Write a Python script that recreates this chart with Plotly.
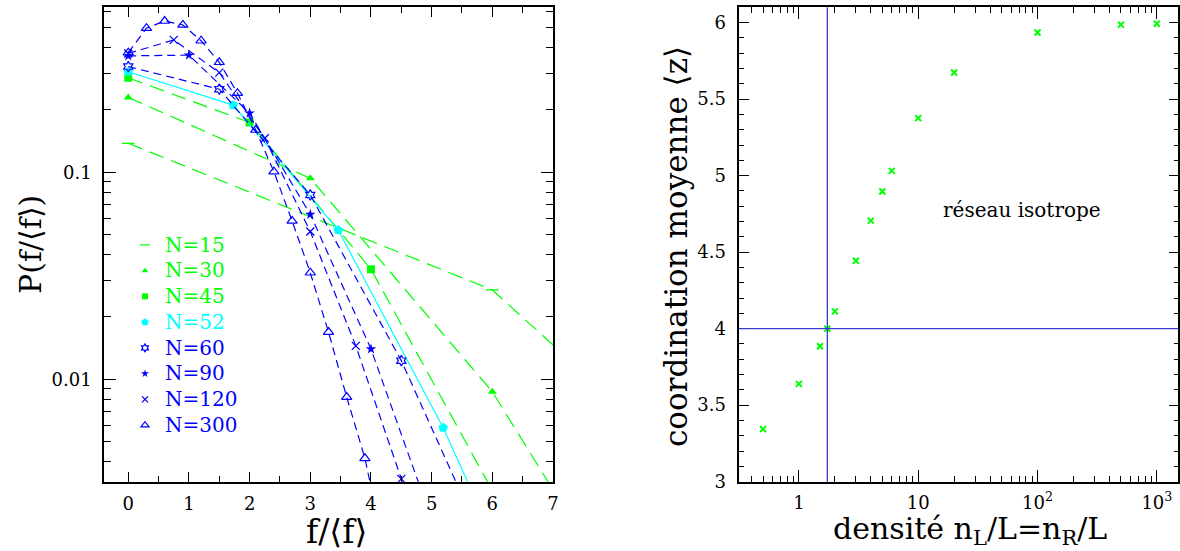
import plotly.graph_objects as go

# ---------------- data: left panel  P(f/<f>) ----------------
x_n15 = [0, 6, 12]
y_n15 = [0.138, 0.027, 0.00069]
x_n30 = [0, 3, 6, 9]
y_n30 = [0.230, 0.0935, 0.0087, 0.00033]
x_n45 = [0, 2, 4, 6]
y_n45 = [0.286, 0.174, 0.034, 0.0029]
x_n52 = [0, 1.73, 3.46, 5.19, 6.92]
y_n52 = [0.306, 0.211, 0.0526, 0.00583, 0.00044]
x_n60 = [0, 1.5, 3, 4.5, 6]
y_n60 = [0.324, 0.252, 0.0777, 0.0123, 0.0013]
x_n90 = [0, 1, 2, 3, 4, 5]
y_n90 = [0.365, 0.368, 0.193, 0.0626, 0.014, 0.0021]
x_n120 = [0, 0.75, 1.5, 2.25, 3, 3.75, 4.5, 5.25]
y_n120 = [0.375, 0.436, 0.303, 0.146, 0.0517, 0.0145, 0.0033, 0.0006]
x_n300 = [0, 0.3, 0.6, 0.9, 1.2, 1.5, 1.8, 2.1, 2.4, 2.7, 3.0, 3.3, 3.6, 3.9, 4.2]
y_n300 = [0.378, 0.497, 0.538, 0.515, 0.432, 0.340, 0.241, 0.160, 0.1007,
          0.0582, 0.0327, 0.0169, 0.0082, 0.00415, 0.0016]

series_names = ["N=15", "N=30", "N=45", "N=52", "N=60", "N=90", "N=120", "N=300"]

# ---------------- data: right panel  <z> vs density ----------------
density = [0.5, 1, 1.5, 1.73, 2, 3, 4, 5, 6, 10, 20, 100, 500, 1000]
z_mean = [3.344, 3.639, 3.885, 4.0, 4.113, 4.444, 4.706, 4.896, 5.031,
          5.376, 5.674, 5.935, 5.987, 5.993]
density_c = 1.73
z_c = 4.0

left_yticks = [0.01, 0.1]
left_yticktext = ["0.01", "0.1"]
right_xticks = [1, 10, 100, 1000]
right_xticktext = ["1", "10", "10<sup>2</sup>", "10<sup>3</sup>"]

# ---------------- styles ----------------
GREEN = "#00ff00"
CYAN = "#00ffff"
BLUE = "#0000ff"
FONT = "DejaVu Serif"

styles = [
    dict(color=GREEN, dash="15px,8px", symbol="line-ew-open", size=9, mlw=1.2),
    dict(color=GREEN, dash="15px,8px", symbol="triangle-up", size=8, mlw=0),
    dict(color=GREEN, dash="15px,8px", symbol="square", size=8, mlw=0),
    dict(color=CYAN, dash="solid", symbol="pentagon", size=10, mlw=0),
    dict(color=BLUE, dash="8px,5px", symbol="hexagram-open", size=8, mlw=1.2),
    dict(color=BLUE, dash="8px,5px", symbol="star", size=8, mlw=0),
    dict(color=BLUE, dash="8px,5px", symbol="x-thin-open", size=8, mlw=1.3),
    dict(color=BLUE, dash="8px,5px", symbol="triangle-up-open", size=9, mlw=1.2),
]

data_x = [x_n15, x_n30, x_n45, x_n52, x_n60, x_n90, x_n120, x_n300]
data_y = [y_n15, y_n30, y_n45, y_n52, y_n60, y_n90, y_n120, y_n300]

fig = go.Figure()

for name, xs, ys, st in zip(series_names, data_x, data_y, styles):
    marker = dict(symbol=st["symbol"], size=st["size"], color=st["color"],
                  line=dict(color=st["color"], width=st["mlw"]))
    fig.add_trace(go.Scatter(
        x=xs, y=ys, mode="lines+markers", xaxis="x", yaxis="y",
        line=dict(color=st["color"], width=1.2, dash=st["dash"]),
        marker=marker, showlegend=False, cliponaxis=True))
    # legend-only entry (marker only)
    fig.add_trace(go.Scatter(
        x=[None], y=[None], mode="markers", xaxis="x", yaxis="y",
        marker=dict(symbol=st["symbol"], size=st["size"] - 2, color=st["color"],
                    line=dict(color=st["color"], width=st["mlw"])),
        name=f"<span style='color:{st['color']};font-size:20px'>{name}</span>",
        showlegend=True))

# right panel points
fig.add_trace(go.Scatter(
    x=density, y=z_mean, mode="markers", xaxis="x2", yaxis="y2",
    marker=dict(symbol="x-thin-open", size=6, color=GREEN,
                line=dict(color=GREEN, width=2)),
    showlegend=False))

# threshold lines in right panel (data coords)
fig.add_shape(type="line", xref="x2", yref="y2 domain",
              x0=density_c, x1=density_c, y0=0, y1=1,
              line=dict(color="#3a3ad0", width=1.3))
fig.add_shape(type="line", xref="x2 domain", yref="y2",
              x0=0, x1=1, y0=z_c, y1=z_c,
              line=dict(color="#3a3ad0", width=1.3))

W, H = 1180, 551
def px(x):
    return x / W
def py(y):
    return 1 - y / H

axis_common = dict(showline=True, linecolor="black", linewidth=1.5, mirror="allticks",
                   ticks="inside", tickcolor="black", showgrid=False, zeroline=False,
                   automargin=False,
                   tickfont=dict(family=FONT, size=18, color="black"))

fig.update_layout(
    width=W, height=H,
    margin=dict(l=0, r=0, t=0, b=0, pad=0, autoexpand=False),
    paper_bgcolor="white", plot_bgcolor="white",
    font=dict(family=FONT, color="black"),
    xaxis=dict(domain=[px(104), px(553)], range=[-0.4, 7.0], anchor="y",
               tickmode="linear", tick0=0, dtick=1, ticklen=10,
               minor=dict(ticks="inside", dtick=0.5, ticklen=6, tickcolor="black", showgrid=False),
               ticklabelstandoff=5, **axis_common),
    yaxis=dict(domain=[py(481.7), py(7.3)], type="log", range=[-2.495, -0.203], anchor="x",
               tickmode="array", tickvals=left_yticks, ticktext=left_yticktext, ticklen=12,
               minor=dict(ticks="inside", dtick="D1", ticklen=7, tickcolor="black", showgrid=False),
               ticklabelstandoff=7, **axis_common),
    xaxis2=dict(domain=[px(739.3), px(1178.3)], type="log", range=[-0.5, 3.18], anchor="y2",
                tickmode="array", tickvals=right_xticks, ticktext=right_xticktext, ticklen=12,
                minor=dict(ticks="inside", dtick="D1", ticklen=6, tickcolor="black", showgrid=False),
                ticklabelstandoff=4, **axis_common),
    yaxis2=dict(domain=[py(481.7), py(7.3)], range=[3, 6.1], anchor="x2",
                tickmode="linear", tick0=3, dtick=0.5, ticklen=10,
                minor=dict(ticks="inside", dtick=0.1, ticklen=5, tickcolor="black", showgrid=False),
                ticklabelstandoff=8, **axis_common),
    legend=dict(x=px(125), y=py(227), xanchor="left", yanchor="top",
                bgcolor="rgba(0,0,0,0)", borderwidth=0,
                font=dict(family=FONT, size=17.5), itemwidth=30,
                tracegroupgap=0, traceorder="normal"),
)

annots = [
    dict(text="P(f/⟨f⟩)", x=px(30), y=py(245), textangle=-90, size=30),
    dict(text="f/⟨f⟩", x=px(336), y=py(531), textangle=0, size=33),
    dict(text="coordination moyenne ⟨z⟩", x=px(676), y=py(247), textangle=-90, size=31),
    dict(text="densité n<sub>L</sub>/L=n<sub>R</sub>/L", x=px(970), y=py(530), textangle=0, size=30),
    dict(text="réseau isotrope", x=px(1022), y=py(210), textangle=0, size=20),
]
for a in annots:
    fig.add_annotation(text=a["text"], x=a["x"], y=a["y"], xref="paper", yref="paper",
                       xanchor="center", yanchor="middle", showarrow=False,
                       textangle=a["textangle"],
                       font=dict(family=FONT, size=a["size"], color="black"))

fig.write_html("out.html", config={"displayModeBar": False},
               post_script="document.body.style.margin='0px';")
